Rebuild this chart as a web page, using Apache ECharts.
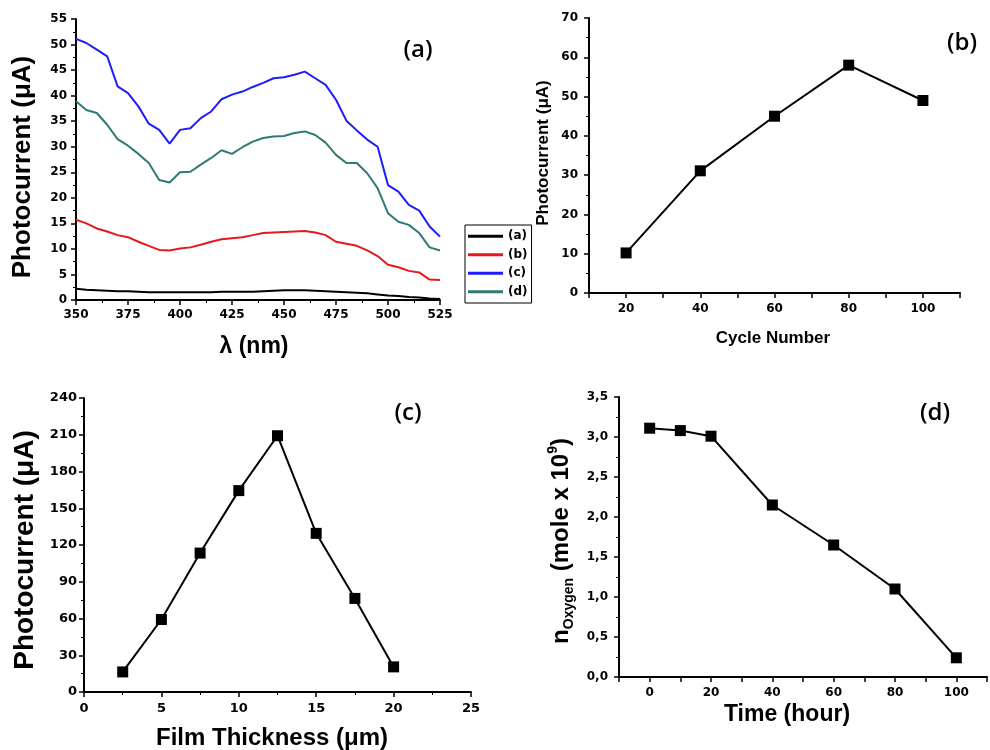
<!DOCTYPE html>
<html>
<head>
<meta charset="utf-8">
<title>Photocurrent panels</title>
<script src="https://cdn.jsdelivr.net/npm/echarts@6/dist/echarts.min.js"></script>
<style>
  html, body { margin: 0; padding: 0; background: #fff; }
  #main { width: 990px; height: 750px; }
</style>
</head>
<body>
<div id="main"></div>
<script>
// (a) photocurrent spectra
const wavelength = [350, 355, 360, 365, 370, 375, 380, 385, 390, 395, 400, 405, 410, 415, 420, 425, 430, 435,
  440, 445, 450, 455, 460, 465, 470, 475, 480, 485, 490, 495, 500, 505, 510, 515, 520, 525];
const curveA = [2.2, 2.0, 1.9, 1.8, 1.7, 1.7, 1.6, 1.5, 1.5, 1.5, 1.5, 1.5, 1.5, 1.5, 1.6, 1.6, 1.6, 1.6,
  1.7, 1.8, 1.9, 1.9, 1.9, 1.8, 1.7, 1.6, 1.5, 1.4, 1.3, 1.1, 0.9, 0.8, 0.6, 0.5, 0.3, 0.2];
const curveB = [15.7, 15.0, 14.0, 13.4, 12.7, 12.3, 11.4, 10.6, 9.8, 9.7, 10.1, 10.3, 10.8, 11.4, 11.9, 12.1, 12.3, 12.7,
  13.1, 13.2, 13.3, 13.4, 13.5, 13.2, 12.7, 11.4, 11.0, 10.6, 9.7, 8.6, 6.9, 6.4, 5.7, 5.4, 4.0, 3.9];
const curveC = [51.1, 50.3, 49.0, 47.7, 41.8, 40.5, 37.9, 34.5, 33.3, 30.6, 33.3, 33.6, 35.6, 36.9, 39.3, 40.2, 40.8, 41.7,
  42.5, 43.4, 43.6, 44.1, 44.7, 43.4, 42.1, 39.2, 35.1, 33.2, 31.4, 30.0, 22.5, 21.2, 18.6, 17.5, 14.4, 12.4];
const curveD = [38.9, 37.2, 36.6, 34.3, 31.5, 30.2, 28.6, 26.8, 23.5, 23.0, 25.0, 25.1, 26.5, 27.8, 29.3, 28.6, 29.9, 31.0,
  31.7, 32.0, 32.1, 32.7, 33.0, 32.3, 30.8, 28.4, 26.8, 26.8, 24.8, 21.9, 17.0, 15.3, 14.7, 13.1, 10.3, 9.7];
const curveNames = ['(a)', '(b)', '(c)', '(d)'];
const curveColors = ['#000000', '#e3191c', '#1c1cff', '#2f7a72'];

// (b) photocurrent vs cycle number
const cycleNumber = [20, 40, 60, 80, 100];
const cycleCurrent = [10.2, 31.1, 45.0, 58.0, 49.0];

// (c) photocurrent vs film thickness
const thickness = [2.5, 5, 7.5, 10, 12.5, 15, 17.5, 20];
const thicknessCurrent = [16.4, 59.2, 113.4, 164.4, 209.2, 129.5, 76.4, 20.5];

// (d) oxygen vs time
const timeHour = [0, 10, 20, 40, 60, 80, 100];
const oxygen = [3.11, 3.08, 3.01, 2.15, 1.65, 1.10, 0.24];

const tickFont = { fontFamily: 'DejaVu Sans', fontWeight: 'bold', fontSize: 12, color: '#000' };

function xAxisFor(gridIndex, min, max, interval, extra) {
  return Object.assign({
    type: 'value', gridIndex: gridIndex, min: min, max: max, interval: interval,
    axisLine: { onZero: false, lineStyle: { color: '#000', width: 2 } },
    axisTick: { length: 5, lineStyle: { color: '#000', width: 1.5 } },
    splitLine: { show: false },
    axisLabel: Object.assign({ margin: 9 }, tickFont)
  }, extra || {});
}

function yAxisFor(gridIndex, min, max, interval, extra) {
  return Object.assign({
    type: 'value', gridIndex: gridIndex, min: min, max: max, interval: interval,
    axisLine: { show: true, onZero: false, lineStyle: { color: '#000', width: 2 } },
    axisTick: { show: true, length: 5, lineStyle: { color: '#000', width: 1.5 } },
    minorTick: { show: true, splitNumber: 2, length: 3, lineStyle: { color: '#000', width: 1 } },
    splitLine: { show: false },
    axisLabel: Object.assign({ margin: 9 }, tickFont)
  }, extra || {});
}

function pointSeries(xIndex, xs, ys) {
  return {
    type: 'line', xAxisIndex: xIndex, yAxisIndex: xIndex,
    data: xs.map((x, i) => [x, ys[i]]),
    symbol: 'rect', symbolSize: 11,
    itemStyle: { color: '#000' },
    lineStyle: { color: '#000', width: 2 },
    animation: false
  };
}

const nameFont = 'bold 24px "Liberation Sans", Arial, sans-serif';
const labelFont = '600 24px "Open Sans", sans-serif';

function text(x, y, str, font, rotate) {
  return {
    type: 'text', x: x, y: y, rotation: rotate ? Math.PI / 2 : 0,
    style: { text: str, font: font, fill: '#000', align: 'center', verticalAlign: 'middle' }
  };
}

const chart = echarts.init(document.getElementById('main'));

chart.setOption({
  backgroundColor: '#fff',
  animation: false,
  grid: [
    { left: 76, top: 19, width: 364, height: 281 },
    { left: 589, top: 18, width: 371, height: 275 },
    { left: 84, top: 398, width: 387, height: 294 },
    { left: 619, top: 397, width: 377, height: 280 }
  ],
  legend: {
    data: curveNames,
    left: 465, top: 225,
    orient: 'vertical',
    icon: 'rect',
    itemWidth: 35, itemHeight: 3,
    itemGap: 4,
    itemTextGap: 3,
    padding: [4, 4, 4, 3],
    borderColor: '#000', borderWidth: 1,
    textStyle: { fontFamily: 'DejaVu Sans', fontWeight: 'bold', fontSize: 12, color: '#000', lineHeight: 14.5 }
  },
  xAxis: [
    xAxisFor(0, 350, 525, 25, { minorTick: { show: true, splitNumber: 2, length: 3, lineStyle: { color: '#000' } } }),
    xAxisFor(1, 10, 110, 10, {
      axisLabel: Object.assign({ margin: 10, formatter: v => (v % 20 === 0 && v >= 20 && v <= 100) ? String(v) : '' }, tickFont)
    }),
    xAxisFor(2, 0, 25, 5, {
      minorTick: { show: true, splitNumber: 2, length: 3, lineStyle: { color: '#000' } },
      axisLabel: Object.assign({ margin: 10 }, tickFont, { fontSize: 13 })
    }),
    xAxisFor(3, -10, 110, 10, {
      axisLabel: Object.assign({ margin: 10, formatter: v => (v % 20 === 0 && v >= 0 && v <= 100) ? String(v) : '' }, tickFont)
    })
  ],
  yAxis: [
    yAxisFor(0, 0, 55, 5),
    yAxisFor(1, 0, 70, 10, { axisLabel: Object.assign({ margin: 11 }, tickFont) }),
    yAxisFor(2, 0, 240, 30, { axisLabel: Object.assign({ margin: 7 }, tickFont, { fontSize: 13 }) }),
    yAxisFor(3, 0, 3.5, 0.5, {
      axisLabel: Object.assign({ margin: 11, formatter: v => v.toFixed(1).replace('.', ',') }, tickFont)
    })
  ],
  series: [
    ...[curveA, curveB, curveC, curveD].map((ys, k) => ({
      name: curveNames[k], type: 'line', xAxisIndex: 0, yAxisIndex: 0,
      data: wavelength.map((x, i) => [x, ys[i]]),
      showSymbol: false, symbol: 'none',
      itemStyle: { color: curveColors[k] },
      lineStyle: { color: curveColors[k], width: 2 }
    })),
    pointSeries(1, cycleNumber, cycleCurrent),
    pointSeries(2, thickness, thicknessCurrent),
    pointSeries(3, timeHour, oxygen)
  ],
  graphic: [
    text(23, 167, 'Photocurrent (\u03bcA)', 'bold 26px "Liberation Sans", Arial, sans-serif', true),
    text(254, 347, '\u03bb (nm)', 'bold 23px "Liberation Sans", Arial, sans-serif', false),
    text(543, 153, 'Photocurrent (\u03bcA)', 'bold 17px "Liberation Sans", Arial, sans-serif', true),
    text(773, 338, 'Cycle Number', 'bold 17px "Liberation Sans", Arial, sans-serif', false),
    text(25, 550, 'Photocurrent (\u03bcA)', 'bold 28px "Liberation Sans", Arial, sans-serif', true),
    text(272, 738, 'Film Thickness (\u03bcm)', nameFont, false),
    text(787, 715, 'Time (hour)', 'bold 23px "Liberation Sans", Arial, sans-serif', false),
    {
      type: 'text', x: 561, y: 541, rotation: Math.PI / 2,
      style: {
        text: '{n|n}{s|Oxygen}{m| (mole x 10}{p|9}{m|)}',
        align: 'center', verticalAlign: 'middle', fill: '#000',
        rich: {
          n: { font: 'bold 24px "Liberation Sans", Arial, sans-serif', lineHeight: 30 },
          m: { font: 'bold 24px "Liberation Sans", Arial, sans-serif', lineHeight: 30 },
          s: { font: 'bold 14px "Liberation Sans", Arial, sans-serif', lineHeight: 10, verticalAlign: 'bottom' },
          p: { font: 'bold 14px "Liberation Sans", Arial, sans-serif', lineHeight: 14, verticalAlign: 'top' }
        }
      }
    },
    text(418, 50, '(a)', labelFont, false),
    text(962, 43, '(b)', labelFont, false),
    text(408, 413, '(c)', labelFont, false),
    text(935, 413, '(d)', labelFont, false)
  ]
});

window.addEventListener('resize', function() {
  chart.resize();
});
</script>
</body>
</html>
